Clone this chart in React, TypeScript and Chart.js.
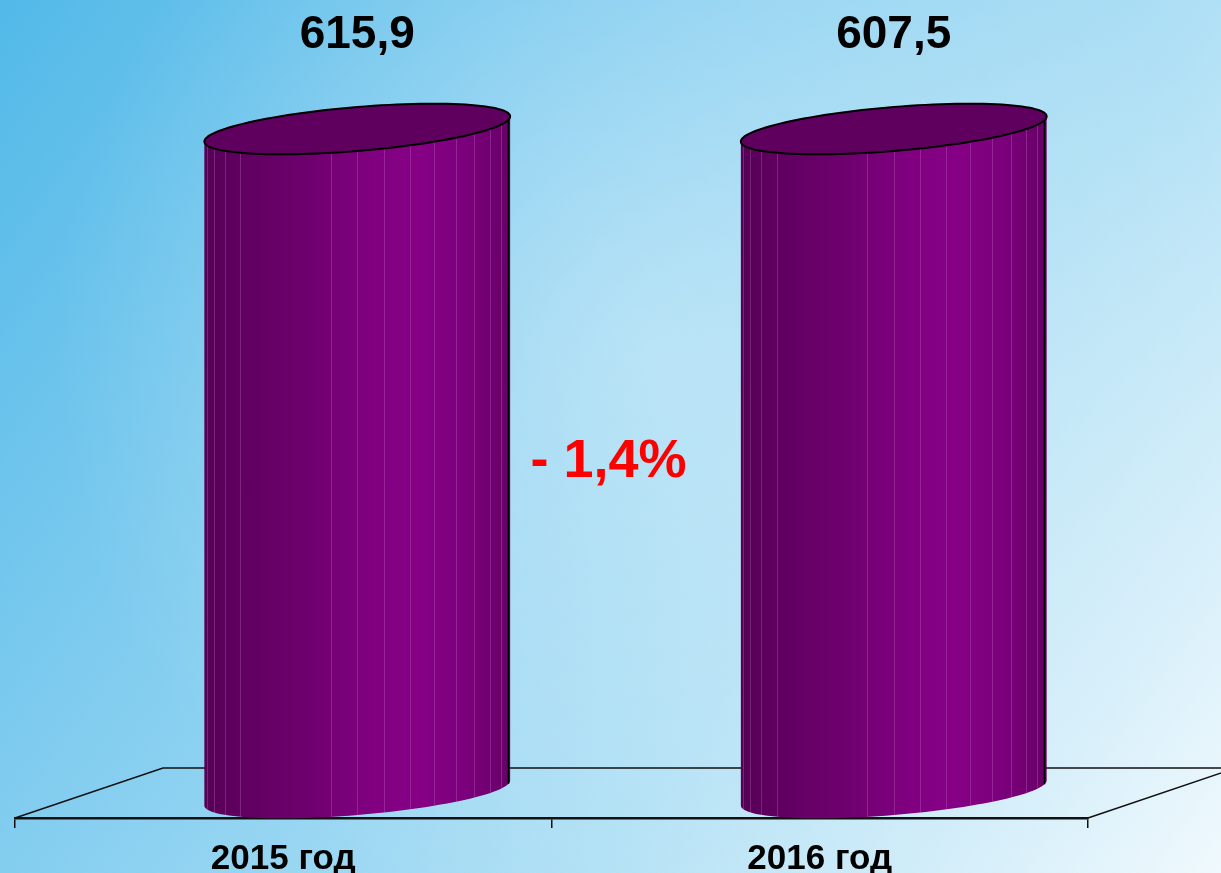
import React, { useEffect, useRef } from 'react';
import { Chart, registerables } from 'chart.js';

Chart.register(...registerables);

// ---- data ----
const categories: string[] = ['2015 год', '2016 год'];
const values: number[] = [615.9, 607.5];
const changeLabel = '- 1,4%';
const yMin = 0;
const yMax = 600; // values above the axis maximum are clipped, as in the original

// ---- styling constants ----
const DEPTH_X = 148;
const DEPTH_Y = -50;
const CAP_B = 22;
const CAP_TILT = 0.082; // right end of the cap is higher than the left

const fmt = (v: number) => v.toFixed(1).replace('.', ',');

const backgroundPlugin = {
  id: 'bg',
  beforeDraw(chart: any) {
    const { ctx, width, height } = chart;
    ctx.save();
    const g = ctx.createLinearGradient(0, 0, width, height);
    g.addColorStop(0, '#52b9e8');
    g.addColorStop(0.35, '#85cef0');
    g.addColorStop(0.66, '#b0e0f5');
    g.addColorStop(1, '#f0f9fd');
    ctx.fillStyle = g;
    ctx.fillRect(0, 0, width, height);
    const r = ctx.createRadialGradient(650, 350, 0, 650, 350, 600);
    r.addColorStop(0, 'rgba(255,255,255,0.32)');
    r.addColorStop(1, 'rgba(255,255,255,0)');
    ctx.fillStyle = r;
    ctx.fillRect(0, 0, width, height);
    ctx.restore();
  },
};

const floorPlugin = {
  id: 'floor',
  beforeDatasetsDraw(chart: any) {
    const { ctx, chartArea } = chart;
    const { left, right, bottom } = chartArea;
    ctx.save();
    ctx.strokeStyle = '#111';
    ctx.lineWidth = 1.5;
    ctx.beginPath();
    ctx.moveTo(left, bottom);
    ctx.lineTo(left + DEPTH_X, bottom + DEPTH_Y);
    ctx.lineTo(right + DEPTH_X, bottom + DEPTH_Y);
    ctx.moveTo(right, bottom);
    ctx.lineTo(right + DEPTH_X, bottom + DEPTH_Y);
    ctx.stroke();
    ctx.restore();
  },
};

function capPoint(cx: number, cy: number, a: number, t: number): [number, number] {
  const off = a * CAP_TILT;
  return [cx + a * Math.cos(t), cy + CAP_B * Math.sin(t) - off * Math.cos(t)];
}

function frontY(cx: number, cy: number, a: number, x: number): number {
  const c = Math.max(-1, Math.min(1, (x - cx) / a));
  const s = Math.sqrt(1 - c * c);
  return cy + CAP_B * s - a * CAP_TILT * c;
}

const cylinderPlugin = {
  id: 'cylinders',
  afterDatasetsDraw(chart: any) {
    const { ctx, chartArea } = chart;
    const meta = chart.getDatasetMeta(0);
    const centers: number[] = [];
    meta.data.forEach((el: any, idx: number) => {
      const p = el.getProps(['x', 'y', 'base', 'width'], true);
      const a = p.width / 2;
      const cx = p.x + DEPTH_X / 2;
      const topC = Math.max(p.y, chartArea.top) + DEPTH_Y / 2;
      const baseC = p.base + DEPTH_Y / 2;
      centers.push(cx);
      const N = 60;

      ctx.save();
      // body
      ctx.beginPath();
      let q = capPoint(cx, topC, a, Math.PI);
      ctx.moveTo(q[0], q[1]);
      q = capPoint(cx, baseC, a, Math.PI);
      ctx.lineTo(q[0], q[1]);
      for (let i = 1; i <= N; i++) {
        const t = Math.PI - (i * Math.PI) / N;
        q = capPoint(cx, baseC, a, t);
        ctx.lineTo(q[0], q[1]);
      }
      q = capPoint(cx, topC, a, 0);
      ctx.lineTo(q[0], q[1]);
      for (let i = 1; i <= N; i++) {
        const t = (i * Math.PI) / N;
        q = capPoint(cx, topC, a, t);
        ctx.lineTo(q[0], q[1]);
      }
      ctx.closePath();
      const g = ctx.createLinearGradient(cx - a, 0, cx + a, 0);
      g.addColorStop(0, '#560056');
      g.addColorStop(0.1, '#5f005f');
      g.addColorStop(0.3, '#6c006c');
      g.addColorStop(0.55, '#800080');
      g.addColorStop(0.7, '#860086');
      g.addColorStop(0.87, '#7a007a');
      g.addColorStop(1, '#680068');
      ctx.fillStyle = g;
      ctx.fill();

      // facet lines
      ctx.save();
      ctx.clip();
      ctx.strokeStyle = 'rgba(200,120,200,0.3)';
      ctx.lineWidth = 1;
      const F = 18;
      for (let i = 1; i < F; i++) {
        if (i >= 5 && i <= 7) continue; // darker side shows few facets
        const phi = (i * Math.PI) / F;
        const x = Math.round(cx - a * Math.cos(phi)) + 0.5;
        ctx.beginPath();
        ctx.moveTo(x, frontY(cx, topC, a, x));
        ctx.lineTo(x, frontY(cx, baseC, a, x));
        ctx.stroke();
      }
      ctx.restore();

      ctx.strokeStyle = '#000';
      ctx.lineWidth = 1.6;
      ctx.lineJoin = 'round';
      ctx.stroke();

      // top cap
      ctx.beginPath();
      for (let i = 0; i <= 2 * N; i++) {
        const t = (i * Math.PI) / N;
        q = capPoint(cx, topC, a, t);
        if (i === 0) ctx.moveTo(q[0], q[1]);
        else ctx.lineTo(q[0], q[1]);
      }
      ctx.closePath();
      ctx.fillStyle = '#5f005f';
      ctx.fill();
      ctx.lineWidth = 2;
      ctx.strokeStyle = '#000';
      ctx.stroke();
      ctx.restore();

      // value label
      ctx.save();
      ctx.font = 'bold 46px "Liberation Sans", Arial, sans-serif';
      ctx.fillStyle = '#000';
      ctx.textAlign = 'center';
      ctx.textBaseline = 'middle';
      ctx.fillText(fmt(values[idx]), cx, chartArea.top - 119);
      ctx.restore();
    });

    if (centers.length === 2) {
      ctx.save();
      ctx.font = 'bold 54px "Liberation Sans", Arial, sans-serif';
      ctx.fillStyle = '#ff0000';
      ctx.textAlign = 'center';
      ctx.textBaseline = 'middle';
      ctx.fillText(changeLabel, (centers[0] + centers[1]) / 2 - 17, (chartArea.top + chartArea.bottom) / 2 - 24);
      ctx.restore();
    }
  },
};

export default function App() {
  const ref = useRef<HTMLCanvasElement | null>(null);
  useEffect(() => {
    document.body.style.margin = '0';
    if (!ref.current) return;
    const chart = new Chart(ref.current, {
      type: 'bar',
      data: {
        labels: categories,
        datasets: [
          {
            data: values,
            backgroundColor: 'rgba(0,0,0,0)',
            borderWidth: 0,
            barPercentage: 0.57,
            categoryPercentage: 1,
          },
        ],
      },
      options: {
        animation: false,
        responsive: false,
        layout: { padding: { left: 15, right: 133, top: 154, bottom: 0 } },
        plugins: {
          legend: { display: false },
          tooltip: { enabled: false },
          title: { display: false },
        },
        scales: {
          x: {
            grid: {
              offset: true,
              drawOnChartArea: false,
              drawTicks: true,
              tickLength: 10,
              color: '#111',
              lineWidth: 1.5,
            },
            border: { display: true, color: '#111', width: 2.5 },
            ticks: {
              color: '#000',
              font: { family: '"Liberation Sans", Arial, sans-serif', size: 35, weight: 'bold' },
              padding: 10,
              maxRotation: 0,
            },
            afterFit: (s: any) => {
              s.height = 55;
            },
          },
          y: { display: false, min: yMin, max: yMax },
        },
      },
      plugins: [backgroundPlugin, floorPlugin, cylinderPlugin],
    });
    return () => chart.destroy();
  }, []);
  return (
    <div style={{ width: 1221, height: 873 }}>
      <canvas ref={ref} width={1221} height={873} style={{ display: 'block' }} />
    </div>
  );
}
